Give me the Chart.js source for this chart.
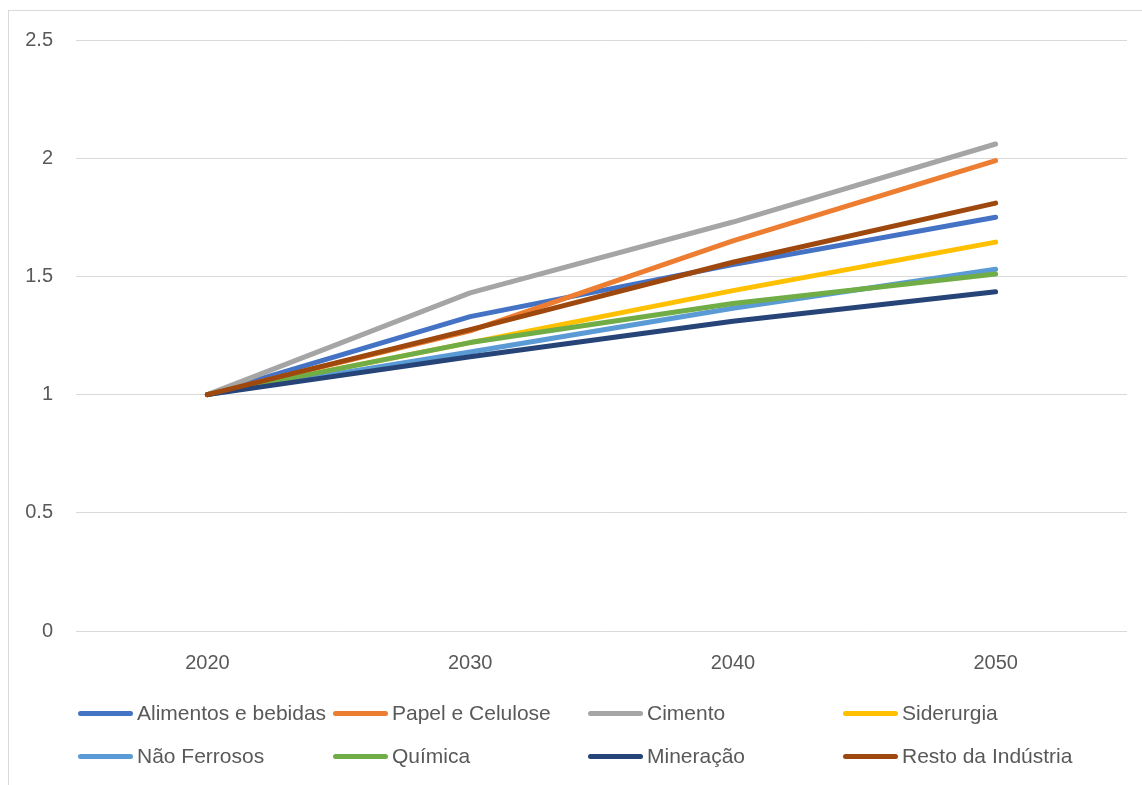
<!DOCTYPE html>
<html>
<head>
<meta charset="utf-8">
<script src="https://cdn.jsdelivr.net/npm/chart.js@4/dist/chart.umd.min.js"></script>
<style>
  html, body { margin: 0; padding: 0; background: #fff; }
  body { width: 1142px; height: 785px; position: relative; overflow: hidden; font-family: "Liberation Sans", sans-serif; }
  #frame { position: absolute; left: 8px; top: 10px; width: 1160px; height: 800px; border: 1px solid #d9d9d9; box-sizing: border-box; }
  #wrap { position: absolute; left: 0; top: 0; width: 1142px; height: 680px; }
  #legend { position: absolute; left: 0; top: 0; width: 1142px; height: 785px; pointer-events: none; }
  .item { position: absolute; display: flex; align-items: center; height: 26px; color: #595959; font-size: 21px; white-space: nowrap; }
  .swatch { width: 55px; height: 5px; border-radius: 3px; margin-right: 4px; }
</style>
</head>
<body>
<div id="frame"></div>
<div id="wrap"><canvas id="chart"></canvas></div>
<div id="legend"></div>
<script>
const years = ['2020', '2030', '2040', '2050'];

const alimentos = [1, 1.33, 1.55, 1.75];
const papel = [1, 1.27, 1.65, 1.99];
const cimento = [1, 1.43, 1.73, 2.06];
const siderurgia = [1, 1.22, 1.44, 1.645];
const naoFerrosos = [1, 1.18, 1.365, 1.53];
const quimica = [1, 1.22, 1.385, 1.51];
const mineracao = [1, 1.16, 1.31, 1.435];
const resto = [1, 1.275, 1.56, 1.81];

const names = ['Alimentos e bebidas', 'Papel e Celulose', 'Cimento', 'Siderurgia',
               'Não Ferrosos', 'Química', 'Mineração', 'Resto da Indústria'];
const series = [alimentos, papel, cimento, siderurgia, naoFerrosos, quimica, mineracao, resto];
const colours = ['#4472c4', '#ed7d31', '#a5a5a5', '#ffc000', '#5b9bd5', '#70ad47', '#264478', '#9e480e'];

const datasets = series.map((values, i) => ({
    label: names[i],
    data: values,
    borderColor: colours[i],
    backgroundColor: colours[i],
    borderWidth: 5,
    borderCapStyle: 'round',
    borderJoinStyle: 'round',
    pointRadius: 0,
    tension: 0,
    // later series sit on top, like the spreadsheet
    order: series.length - i
}));

const tickFont = { family: 'Liberation Sans', size: 20 };

new Chart(document.getElementById('chart'), {
    type: 'line',
    data: { labels: years, datasets: datasets },
    options: {
        responsive: true,
        maintainAspectRatio: false,
        animation: false,
        layout: { padding: { top: 40, right: 15, left: 0, bottom: 0 } },
        plugins: {
            legend: { display: false },
            tooltip: { enabled: false }
        },
        scales: {
            x: {
                offset: true,
                grid: { display: false, drawTicks: false },
                border: { display: false },
                ticks: { color: '#595959', font: tickFont, padding: 20, maxRotation: 0 },
                afterFit: (scale) => { scale.height = 49; }
            },
            y: {
                min: 0,
                max: 2.5,
                grid: { color: '#d9d9d9', lineWidth: 1, drawTicks: false },
                border: { display: false },
                ticks: { stepSize: 0.5, color: '#595959', font: tickFont, padding: 23,
                         callback: (v) => String(v) },
                afterFit: (scale) => { scale.width = 76; }
            }
        }
    }
});

// legend in a 4-column grid below the plot
const legend = document.getElementById('legend');
names.forEach((name, i) => {
    const item = document.createElement('div');
    item.className = 'item';
    item.style.left = (78 + (i % 4) * 255) + 'px';
    item.style.top = (700 + Math.floor(i / 4) * 43) + 'px';
    const swatch = document.createElement('span');
    swatch.className = 'swatch';
    swatch.style.background = colours[i];
    item.appendChild(swatch);
    item.appendChild(document.createTextNode(name));
    legend.appendChild(item);
});
</script>
</body>
</html>
